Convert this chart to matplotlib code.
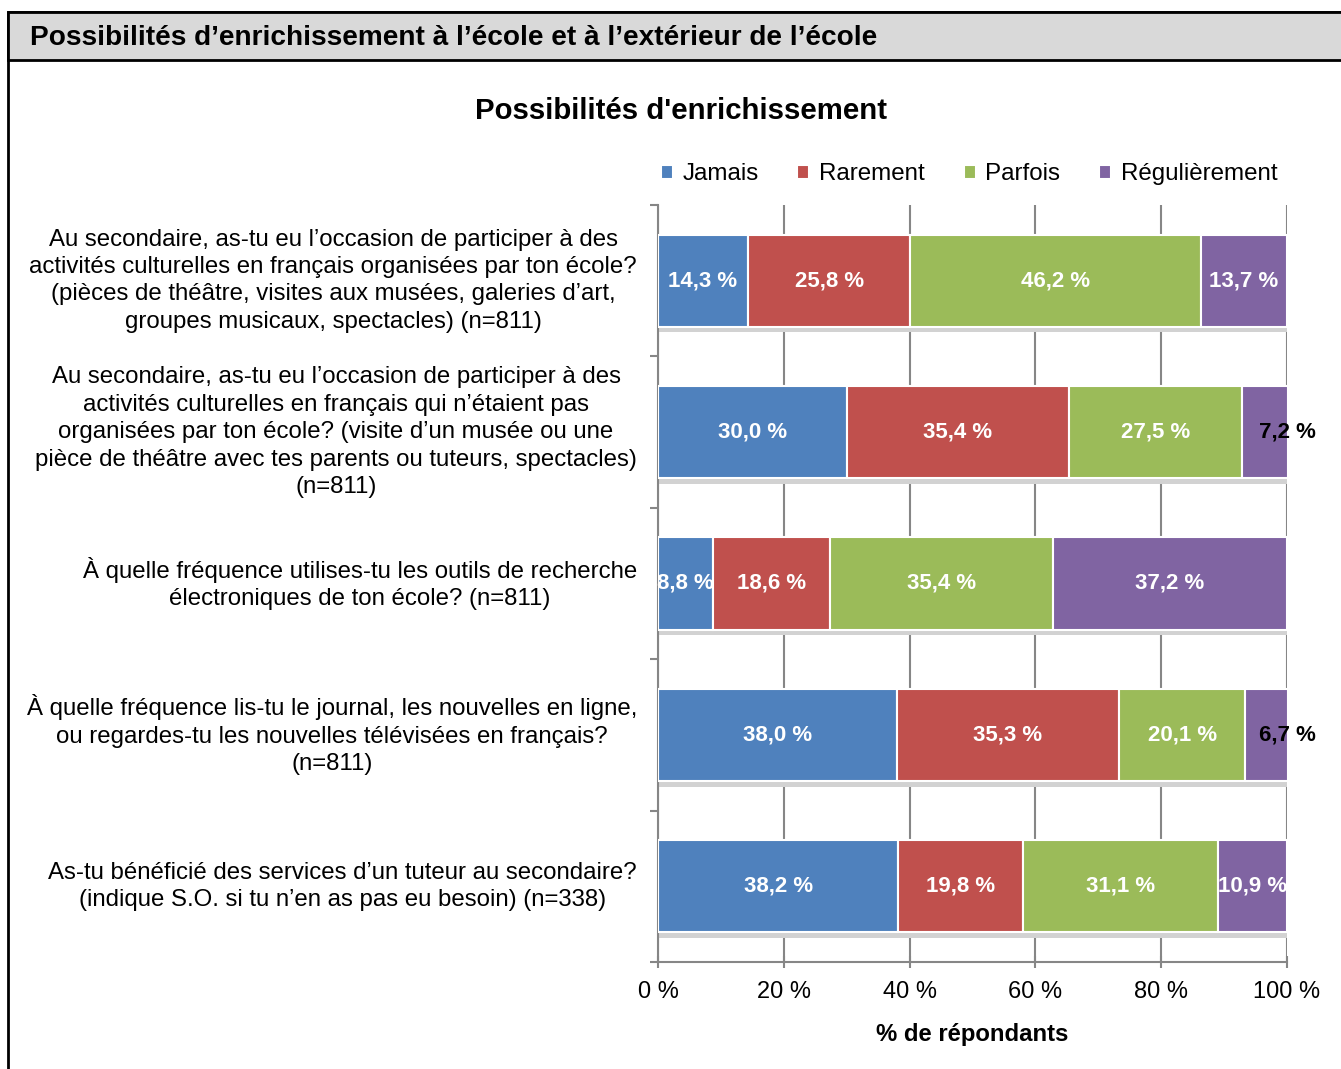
import matplotlib
matplotlib.use("Agg")
import matplotlib.pyplot as plt
from matplotlib.patches import Rectangle
from matplotlib.transforms import blended_transform_factory
import numpy as np

ARIAL = ["Liberation Sans", "DejaVu Sans"]

questions = [
    "Au secondaire, as-tu eu l\u2019occasion de participer à des\n"
    "activités culturelles en français organisées par ton école?\n"
    "(pièces de théâtre, visites aux musées, galeries d\u2019art,\n"
    "groupes musicaux, spectacles) (n=811)",
    "Au secondaire, as-tu eu l\u2019occasion de participer à des\n"
    "activités culturelles en français qui n\u2019étaient pas\n"
    "organisées par ton école? (visite d\u2019un musée ou une\n"
    "pièce de théâtre avec tes parents ou tuteurs, spectacles)\n"
    "(n=811)",
    "À quelle fréquence utilises-tu les outils de recherche\n"
    "électroniques de ton école? (n=811)",
    "À quelle fréquence lis-tu le journal, les nouvelles en ligne,\n"
    "ou regardes-tu les nouvelles télévisées en français?\n"
    "(n=811)",
    "As-tu bénéficié des services d\u2019un tuteur au secondaire?\n"
    "(indique S.O. si tu n\u2019en as pas eu besoin) (n=338)",
]
series = ["Jamais", "Rarement", "Parfois", "Régulièrement"]
jamais = [14.3, 30.0, 8.8, 38.0, 38.2]
rarement = [25.8, 35.4, 18.6, 35.3, 19.8]
parfois = [46.2, 27.5, 35.4, 20.1, 31.1]
regulierement = [13.7, 7.2, 37.2, 6.7, 10.9]
colors = ["#4F81BD", "#C0504D", "#9BBB59", "#8064A2"]
xticks = [0, 20, 40, 60, 80, 100]

fig = plt.figure(figsize=(13.41, 10.69), dpi=100)
W, H = 1341, 1069

# outer frame and header band
fig.patches.append(Rectangle((8 / W, -0.1), 1.1, 1.1 - 12 / H, transform=fig.transFigure,
                             facecolor="none", edgecolor="black", lw=2, zorder=-1))
fig.patches.append(Rectangle((8 / W, 1 - 60 / H), 1.1, 48 / H, transform=fig.transFigure,
                             facecolor="#D9D9D9", edgecolor="black", lw=2, zorder=-1))
fig.text(30 / W, 1 - 38 / H, "Possibilités d\u2019enrichissement à l\u2019école et à l\u2019extérieur de l\u2019école",
         family=ARIAL, fontsize=20.2, fontweight="bold", va="center", ha="left")
fig.text(681 / W, 1 - 111 / H, "Possibilités d'enrichissement",
         family=ARIAL, fontsize=21.2, fontweight="bold", va="center", ha="center")

ax = fig.add_axes([658 / W, 1 - 962 / H, 629 / W, 757 / H])
ax.set_facecolor("none")
y = np.arange(len(questions))
bh = 0.61
data = [jamais, rarement, parfois, regulierement]
left = np.zeros(len(questions))
for vals, c, name in zip(data, colors, series):
    vals = np.array(vals)
    ax.barh(y, vals, left=left, height=bh, color=c, edgecolor="white", lw=1.5,
            label=name, zorder=3)
    for yi, l, v in zip(y, left, vals):
        txt = f"{v:.1f} %".replace(".", ",")
        if v < 8:
            ax.text(l + v, yi, txt, ha="center", va="center",
                    family=ARIAL, fontsize=16, fontweight="bold", color="black", zorder=5)
        else:
            ax.text(l + v / 2, yi, txt, ha="center", va="center",
                    family=ARIAL, fontsize=16, fontweight="bold", color="white", zorder=5)
    left = left + vals

# shadow strip under each bar
ax.barh(y + bh / 2 + 0.02, left, height=0.033, color="#D2D2D2", zorder=2)

ax.set_xlim(0, 100)
ax.set_ylim(len(questions) - 0.5, -0.5)
ax.set_xticks(xticks)
ax.set_xticklabels([f"{t} %" for t in xticks], family=ARIAL, fontsize=17)
ax.set_yticks(np.arange(len(questions) + 1) - 0.5)
ax.set_yticklabels([])
ax.tick_params(axis="x", length=8, width=1.5, color="#868686", pad=10, direction="inout")
ax.tick_params(axis="y", length=6, width=1.5, color="#868686", direction="out")
ax.grid(axis="x", color="#868686", lw=1.5, zorder=1)
for s in ["top", "right"]:
    ax.spines[s].set_visible(False)
for s in ["left", "bottom"]:
    ax.spines[s].set_color("#868686")
    ax.spines[s].set_linewidth(1.5)
ax.set_xlabel("% de répondants", family=ARIAL, fontsize=17.2, fontweight="bold", labelpad=14)

tr = blended_transform_factory(ax.transAxes, ax.transData)
for yi, q in zip(y, questions):
    ax.text(-21 / 629, yi, q, transform=tr, ha="right", va="center", multialignment="center",
            family=ARIAL, fontsize=17.3, linespacing=1.32)

ax.legend(loc="lower right", bbox_to_anchor=(1.0, 1.013), ncol=4, frameon=False,
          prop={"family": ARIAL, "size": 17.4}, handlelength=0.5, handleheight=0.5,
          handletextpad=0.4, columnspacing=1.6, borderaxespad=0)

fig.savefig("out.png", dpi=100)
